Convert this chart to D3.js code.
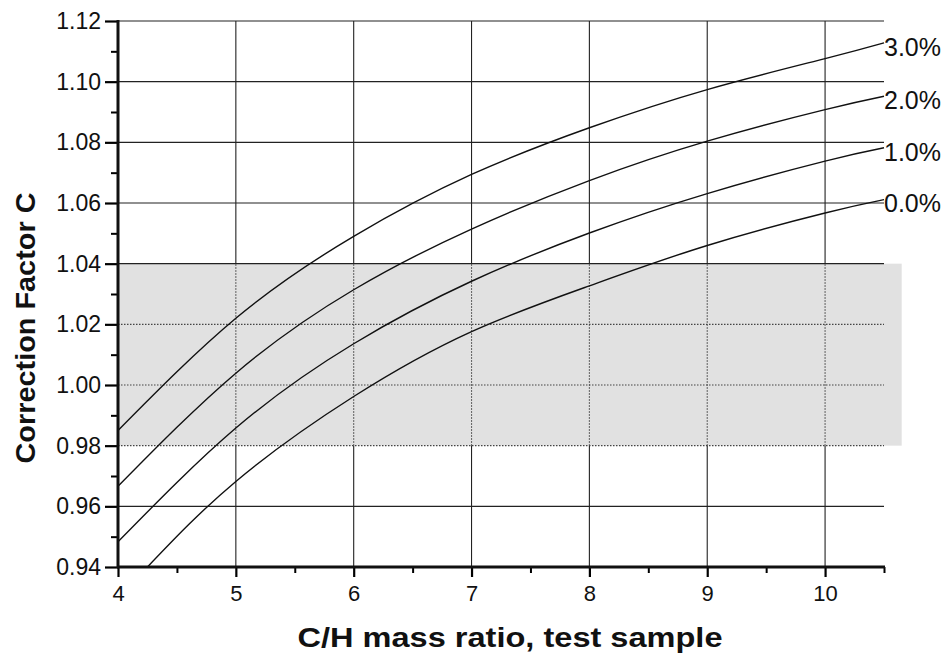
<!DOCTYPE html>
<html>
<head>
<meta charset="utf-8">
<script src="https://cdn.jsdelivr.net/npm/d3@7"></script>
<style>
  body { margin: 0; background: #fff; }
  text { font-family: "Liberation Sans", Arial, sans-serif; fill: #111; }
</style>
</head>
<body>
<div class="chart"></div>
<script>
// values
var ratios = [4, 5, 6, 7, 8, 9, 10, 10.5];
var ratios00 = [4.25, 5, 6, 7, 8, 9, 10, 10.5];
var factor30 = [0.985, 1.022, 1.049, 1.0694, 1.0848, 1.0974, 1.1076, 1.1128];
var factor20 = [0.9666, 1.0039, 1.0314, 1.0514, 1.0674, 1.0804, 1.0908, 1.0952];
var factor10 = [0.9483, 0.9858, 1.0136, 1.0342, 1.0501, 1.0631, 1.0738, 1.0782];
var factor00 = [0.94, 0.9682, 0.9962, 1.0176, 1.0327, 1.046, 1.0567, 1.0611];
var seriesLabels = ["3.0%", "2.0%", "1.0%", "0.0%"];

var xMajor = [4, 5, 6, 7, 8, 9, 10];
var xMinor = [4.5, 5.5, 6.5, 7.5, 8.5, 9.5, 10.5];
var yMajor = [0.94, 0.96, 0.98, 1.00, 1.02, 1.04, 1.06, 1.08, 1.10, 1.12];
var yMinor = [0.95, 0.97, 0.99, 1.01, 1.03, 1.05, 1.07, 1.09, 1.11];
var shadeBand = [0.98, 1.04];

var width = 950, height = 654;

var svg = d3.select(".chart").append("svg")
  .attr("width", width)
  .attr("height", height);

var x = d3.scaleLinear().domain([4, 10.5]).range([118, 884]);
var y = d3.scaleLinear().domain([0.94, 1.12]).range([567, 21]);

// ========== shaded band ==========
svg.append("rect")
  .attr("x", x(4))
  .attr("y", y(shadeBand[1]))
  .attr("width", x(10.65) - x(4))
  .attr("height", y(shadeBand[0]) - y(shadeBand[1]))
  .style("fill", "#e1e1e1");

// ========== grid ==========
function inBand(v) { return v >= shadeBand[0] - 1e-9 && v < shadeBand[1] - 1e-9; }

svg.selectAll(".hgrid")
  .data(yMajor.filter(function(d){ return d > 0.94; }))
  .enter().append("line")
  .attr("class", "hgrid")
  .attr("x1", x(4)).attr("x2", x(10.5))
  .attr("y1", function(d){ return y(d); })
  .attr("y2", function(d){ return y(d); })
  .style("stroke", function(d){ return inBand(d) ? "#444" : "#222"; })
  .style("stroke-width", 1.1)
  .style("stroke-dasharray", function(d){ return inBand(d) ? "1.5,1.5" : null; });

// vertical grid: solid outside the band, dotted inside
var vSegs = [];
xMajor.filter(function(d){ return d > 4; }).forEach(function(v){
  vSegs.push({v: v, a: 0.94, b: shadeBand[0], dot: false});
  vSegs.push({v: v, a: shadeBand[0], b: shadeBand[1], dot: true});
  vSegs.push({v: v, a: shadeBand[1], b: 1.12, dot: false});
});
svg.selectAll(".vgrid")
  .data(vSegs)
  .enter().append("line")
  .attr("class", "vgrid")
  .attr("x1", function(d){ return x(d.v); })
  .attr("x2", function(d){ return x(d.v); })
  .attr("y1", function(d){ return y(d.a); })
  .attr("y2", function(d){ return y(d.b); })
  .style("stroke", function(d){ return d.dot ? "#444" : "#222"; })
  .style("stroke-width", 1.1)
  .style("stroke-dasharray", function(d){ return d.dot ? "1.5,1.5" : null; });

// ========== curves ==========
var series = [
  {label: seriesLabels[0], xs: ratios, ys: factor30},
  {label: seriesLabels[1], xs: ratios, ys: factor20},
  {label: seriesLabels[2], xs: ratios, ys: factor10},
  {label: seriesLabels[3], xs: ratios00, ys: factor00}
];

var line = d3.line()
  .x(function(d){ return x(d[0]); })
  .y(function(d){ return y(d[1]); })
  .curve(d3.curveNatural);

svg.selectAll(".curve")
  .data(series)
  .enter().append("path")
  .attr("class", "curve")
  .attr("d", function(s){ return line(d3.zip(s.xs, s.ys)); })
  .style("fill", "none")
  .style("stroke", "#111")
  .style("stroke-width", 1.4);

svg.selectAll(".slabel")
  .data(series)
  .enter().append("text")
  .attr("class", "slabel")
  .attr("x", function(s){ return x(s.xs[s.xs.length - 1]) + 0; })
  .attr("y", function(s){ return y(s.ys[s.ys.length - 1]) + 4; })
  .attr("dy", "0.35em")
  .style("font-size", "25px")
  .text(function(s){ return s.label; });

// ========== axes ==========
var yAxis = d3.axisLeft(y).tickValues(yMajor).tickSize(13).tickPadding(4)
  .tickFormat(d3.format(".2f"));
var gy = svg.append("g").attr("transform", "translate(" + x(4) + ",0)").call(yAxis);
gy.selectAll(".tick text").style("font-size", "23px").style("font-family", "Liberation Sans, Arial, sans-serif");
gy.selectAll(".tick line").style("stroke-width", 2.2);
gy.select(".domain").remove();
svg.append("g").attr("transform", "translate(" + x(4) + ",0)")
  .call(d3.axisLeft(y).tickValues(yMinor).tickSize(7).tickFormat(""))
  .call(function(g){ g.select(".domain").remove(); g.selectAll("line").style("stroke-width", 2); });

var xAxis = d3.axisBottom(x).tickValues(xMajor).tickSize(10).tickPadding(8)
  .tickFormat(d3.format("d"));
var gx = svg.append("g").attr("transform", "translate(0," + y(0.94) + ")").call(xAxis);
gx.selectAll(".tick text").style("font-size", "22px").style("font-family", "Liberation Sans, Arial, sans-serif");
gx.selectAll(".tick line").style("stroke-width", 2.2);
gx.select(".domain").remove();
svg.append("g").attr("transform", "translate(0," + y(0.94) + ")")
  .call(d3.axisBottom(x).tickValues(xMinor).tickSize(6).tickFormat(""))
  .call(function(g){ g.select(".domain").remove(); g.selectAll("line").style("stroke-width", 2); });

// axis lines (thick)
svg.append("line")
  .attr("x1", x(4)).attr("x2", x(4))
  .attr("y1", y(0.94) + 1).attr("y2", y(1.12) - 1)
  .style("stroke", "#111").style("stroke-width", 3);
svg.append("line")
  .attr("x1", x(4) - 1).attr("x2", x(10.5) + 1)
  .attr("y1", y(0.94)).attr("y2", y(0.94))
  .style("stroke", "#111").style("stroke-width", 3);

// ========== titles ==========
svg.append("text")
  .attr("x", 510).attr("y", 647)
  .attr("text-anchor", "middle")
  .attr("textLength", 425)
  .attr("lengthAdjust", "spacingAndGlyphs")
  .style("font-size", "27px").style("font-weight", "bold")
  .text("C/H mass ratio, test sample");

svg.append("text")
  .attr("transform", "translate(35,328) rotate(-90)")
  .attr("text-anchor", "middle")
  .attr("textLength", 271)
  .attr("lengthAdjust", "spacingAndGlyphs")
  .style("font-size", "27px").style("font-weight", "bold")
  .text("Correction Factor C");
</script>
</body>
</html>
